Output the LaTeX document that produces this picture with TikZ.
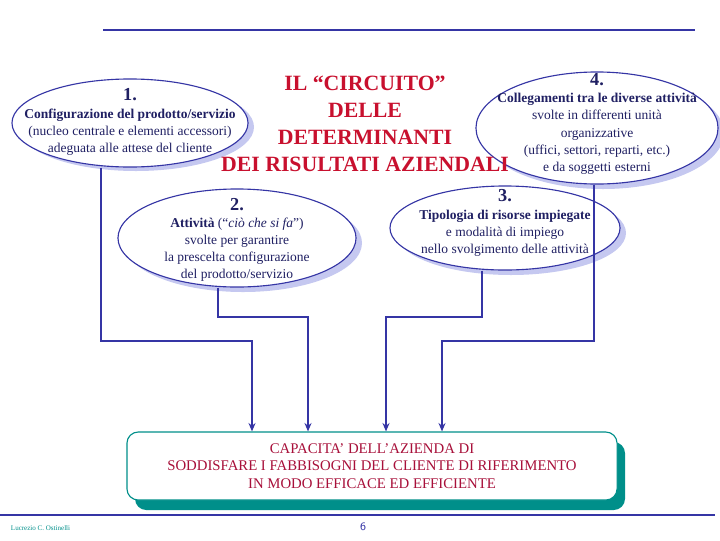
\documentclass[tikz,border=0pt]{standalone}
\usepackage{fontspec}
\setmainfont{Liberation Serif}
\usetikzlibrary{shapes.geometric,arrows.meta}
\definecolor{navy}{HTML}{3535A5}
\definecolor{shad}{HTML}{C5C8F0}
\definecolor{tred}{HTML}{C8102E}
\definecolor{bred}{HTML}{A8103A}
\definecolor{teal2}{HTML}{008F8A}
\tikzset{
 ell/.style={ellipse,draw=navy,thick,fill=white,inner sep=0pt},
 etxt/.style={align=center,inner sep=0pt,font=\fontsize{9.6}{12.2}\selectfont,text=navy!60!black},
 conn/.style={navy,line width=1.5pt},
 arr/.style={conn,-{Stealth[length=6pt,width=5pt]}},
}
\begin{document}
\begin{tikzpicture}[x=0.025cm,y=-0.025cm]
\useasboundingbox (0,0) rectangle (720,540);
\draw[navy,line width=1.5pt] (103,30) -- (695,30);
\draw[navy,line width=1.5pt] (0,515) -- (715,515);
% shadows
\fill[shad] (136,127) ellipse (118 and 44);
\fill[shad] (243,243) ellipse (119 and 49);
\fill[shad] (511,233) ellipse (115 and 42);
\fill[shad] (603,133) ellipse (121 and 56);
\node[ell,minimum width=5.9cm,minimum height=2.2cm] (e1) at (130,123) {};
\node[ell,minimum width=5.95cm,minimum height=2.45cm] (e2) at (237,238) {};
\node[ell,minimum width=5.75cm,minimum height=2.1cm] (e3) at (505,228) {};
\node[ell,minimum width=6.05cm,minimum height=2.8cm] (e4) at (597,128) {};
% title
\node[text=tred,align=center,font=\bfseries\fontsize{15.5}{19.2}\selectfont] (title) at (365,124) {IL “CIRCUITO”\\DELLE\\DETERMINANTI\\DEI RISULTATI AZIENDALI};
\node[etxt] (t1) at (130,122) {\textbf{\fontsize{13}{13}\selectfont 1.}\\\textbf{Configurazione del prodotto/servizio}\\(nucleo centrale e elementi accessori)\\adeguata alle attese del cliente};
\node[etxt] (t2) at (237,240) {\textbf{\fontsize{13}{13}\selectfont 2.}\\\textbf{Attività} (“\textit{ciò che si fa}”)\\svolte per garantire\\la prescelta configurazione\\del prodotto/servizio};
\node[etxt] (t3) at (505,223) {\textbf{\fontsize{13}{13}\selectfont 3.}\\\textbf{Tipologia di risorse impiegate}\\e modalità di impiego\\nello svolgimento delle attività};
\node[etxt] (t4) at (597,124) {\textbf{\fontsize{13}{13}\selectfont 4.}\\\textbf{Collegamenti tra le diverse attività}\\svolte in differenti unità\\organizzative\\(uffici, settori, reparti, etc.)\\e da soggetti esterni};
% result box
\fill[teal2,rounded corners=8pt] (135,442) rectangle (625,510);
\node[draw=teal2,thick,fill=white,rounded corners=8pt,minimum width=12.25cm,minimum height=1.7cm,align=center,text=bred,font=\fontsize{10.5}{12.5}\selectfont] (box) at (372,466) {CAPACITA’ DELL’AZIENDA DI\\SODDISFARE I FABBISOGNI DEL CLIENTE DI RIFERIMENTO\\IN MODO EFFICACE ED EFFICIENTE};
% connectors
\draw[arr] (e1.south -| 101,0) |- (252,341) -- (252,0 |- box.north);
\draw[arr] (e2.south -| 218,0) |- (308,317) -- (308,0 |- box.north);
\draw[arr] (e3.south -| 482,0) |- (386,317) -- (386,0 |- box.north);
\draw[arr] (e4.south -| 594,0) |- (442,341) -- (442,0 |- box.north);
% footer
\node[anchor=west,text=teal2,font=\fontsize{5}{6}\selectfont] (ft) at (6,528) {Lucrezio C. Ostinelli};
\node[font=\sffamily\fontsize{8}{9}\selectfont,text=navy] (pg) at (363,527) {6};
\end{tikzpicture}
\end{document}
